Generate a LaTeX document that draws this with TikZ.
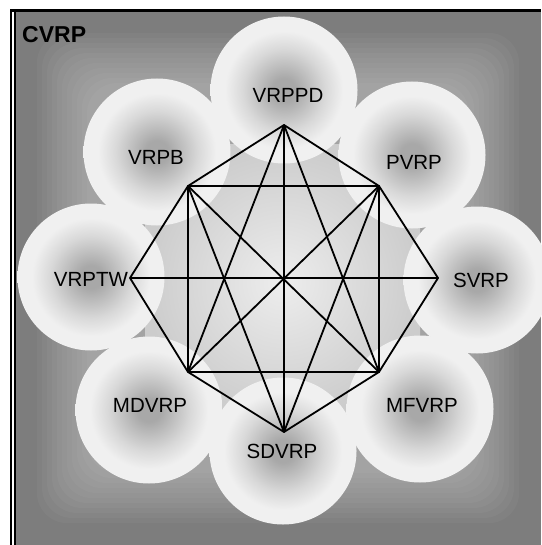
\documentclass[tikz,border=0pt]{standalone}
\usepackage{fontspec}
\setmainfont{Liberation Sans}
\usepackage{tikz}

\definecolor{bggray}{gray}{0.49}
\definecolor{discmid}{gray}{0.66}
\definecolor{discsoft}{gray}{0.85}
\definecolor{discrim}{gray}{0.94}
\definecolor{coremid}{gray}{0.93}
\definecolor{corerim}{gray}{0.80}
\pgfdeclareradialshading{vrpdisc}{\pgfpoint{0bp}{0bp}}{color(0bp)=(discmid); color(4bp)=(discmid); color(14bp)=(discsoft); color(20bp)=(discrim); color(25bp)=(discrim); color(50bp)=(discrim)}
\pgfdeclareradialshading{vrpcore}{\pgfpoint{0bp}{0bp}}{color(0bp)=(coremid); color(25bp)=(corerim); color(50bp)=(corerim)}

\begin{document}
\begin{tikzpicture}[x=1pt,y=-1pt,
	disc/.style={circle,minimum size=147pt,inner sep=0pt,shade,shading=vrpdisc},
	lbl/.style={inner sep=0pt,font=\fontsize{20.5}{24}\selectfont},
	edge/.style={line width=1.8pt,line join=round}]
	\useasboundingbox (0,0) rectangle (541,545);
	\fill[bggray] (15,11) rectangle (541,545);
	\foreach \d in {22,27,...,72}
		\fill[white,opacity=0.035,rounded corners=30pt] (15+\d,11+\d) rectangle (541-\d,545-\d);
	\draw[line width=1.3pt] (11,545) |- (541,9.6);
	\draw[line width=1.3pt] (15,545) -- (15,11);
	\draw[line width=1.2pt] (11,11) -- (541,11);
	\node[font=\bfseries\fontsize{23}{27}\selectfont,inner sep=0pt,anchor=base west] (cvrp) at (22,43) {CVRP};

	\shade[shading=vrpcore] (145,145) rectangle (420,420);

	\node[disc] (dpd) at (284,90) {};
	\node[disc] (dp) at (412,155) {};
	\node[disc] (ds) at (477,280) {};
	\node[disc] (dmf) at (420,409) {};
	\node[disc] (dsd) at (283,451) {};
	\node[disc] (dmd) at (149,410) {};
	\node[disc] (dtw) at (91,277) {};
	\node[disc] (db) at (157,152) {};

	\coordinate (t) at (284,125);
	\coordinate (ur) at (379,186);
	\coordinate (r) at (438,278);
	\coordinate (lr) at (379,372);
	\coordinate (b) at (284,432);
	\coordinate (ll) at (188,372);
	\coordinate (l) at (130,278);
	\coordinate (ul) at (188,186);

	\draw[edge] (t) -- (ur) -- (r) -- (lr) -- (b) -- (ll) -- (l) -- (ul) -- cycle;
	\draw[edge] (ul) -- (ur) -- (lr) -- (ll) -- cycle;
	\foreach \a/\b in {t/b,l/r,ul/lr,ur/ll,t/ll,t/lr,b/ul,b/ur}
		\draw[edge] (\a) -- (\b);

	\node[lbl] (pd) at (288,95) {VRPPD};
	\node[lbl] (p) at (414,162) {PVRP};
	\node[lbl] (s) at (481,280) {SVRP};
	\node[lbl] (mf) at (422,405) {MFVRP};
	\node[lbl] (sd) at (282,451) {SDVRP};
	\node[lbl] (md) at (150,405) {MDVRP};
	\node[lbl] (tw) at (91,279) {VRPTW};
	\node[lbl] (vb) at (156,157) {VRPB};
\end{tikzpicture}
\end{document}
